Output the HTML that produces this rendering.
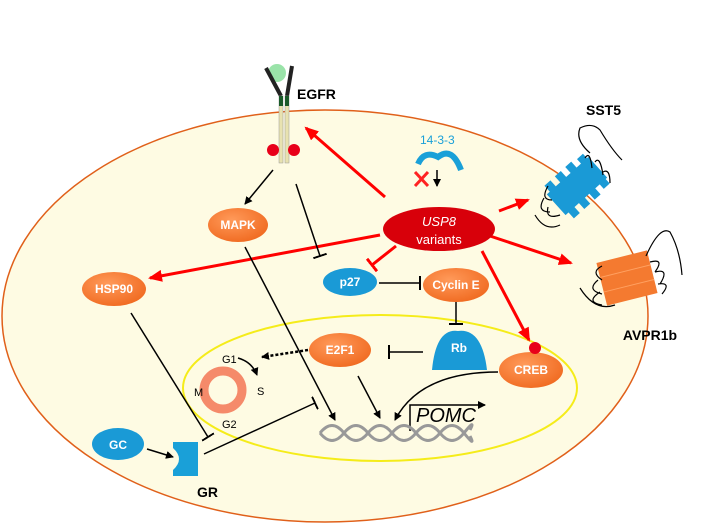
<!DOCTYPE html>
<html><head><meta charset="utf-8"><style>
html,body{margin:0;padding:0;background:#fff;}
svg{display:block;font-family:"Liberation Sans",Arial,sans-serif;}
</style></head><body>
<svg width="711" height="524" viewBox="0 0 711 524" xmlns="http://www.w3.org/2000/svg">
<defs>
<marker id="ab" markerWidth="8" markerHeight="8" refX="7" refY="4" orient="auto" markerUnits="userSpaceOnUse"><path d="M0,0 L8,4 L0,8 z" fill="#000"/></marker>
<marker id="ar" markerWidth="14" markerHeight="12" refX="12" refY="6" orient="auto" markerUnits="userSpaceOnUse"><path d="M0,0 L14,6 L0,12 z" fill="#f00"/></marker>
<marker id="tb" markerWidth="2" markerHeight="14" refX="1" refY="7" orient="auto" markerUnits="userSpaceOnUse"><rect x="0" y="0" width="2" height="14" fill="#000"/></marker>
<marker id="tr" markerWidth="3" markerHeight="16" refX="1.5" refY="8" orient="auto" markerUnits="userSpaceOnUse"><rect x="0" y="0" width="3" height="16" fill="#f00"/></marker>
<radialGradient id="og" cx="40%" cy="35%" r="70%"><stop offset="0" stop-color="#ff9a5a"/><stop offset="1" stop-color="#f06a20"/></radialGradient>
</defs>
<ellipse cx="325" cy="316" rx="323" ry="206" fill="#fefbe3" stroke="#e0601a" stroke-width="1.5"/>
<ellipse cx="380" cy="388" rx="197" ry="73" fill="#fefbe3" stroke="#f5ec1a" stroke-width="2"/>

<!-- EGFR -->
<circle cx="277" cy="73" r="9" fill="#8fe0a0" opacity="0.9"/>
<line x1="266" y1="68" x2="281" y2="96" stroke="#222" stroke-width="4"/>
<line x1="292" y1="66" x2="287" y2="96" stroke="#222" stroke-width="4"/>
<rect x="279" y="96" width="4" height="67" fill="#e8e2b0" stroke="#999" stroke-width="0.5"/>
<rect x="285" y="96" width="4" height="67" fill="#e8e2b0" stroke="#999" stroke-width="0.5"/>
<rect x="279" y="96" width="4" height="10" fill="#1a5a2a"/><rect x="285" y="96" width="4" height="10" fill="#1a5a2a"/>
<circle cx="273" cy="150" r="6" fill="#e8001a"/><circle cx="294" cy="150" r="6" fill="#e8001a"/>
<text x="297" y="99" font-size="14" font-weight="bold">EGFR</text>

<!-- 14-3-3 -->
<text x="420" y="144" font-size="12" fill="#1aa0d8">14-3-3</text>
<path d="M418,164 Q424,150 438,157 Q452,146 461,170" fill="none" stroke="#1aa0d8" stroke-width="6"/>
<line x1="437" y1="170" x2="437" y2="186" stroke="#000" stroke-width="1.5" marker-end="url(#ab)"/>
<path d="M415,172 L428,186 M428,172 L415,186" stroke="#f22" stroke-width="3"/>

<!-- red arrows -->
<g stroke="#f00" stroke-width="3" fill="none">
<line x1="385" y1="197" x2="306" y2="128" marker-end="url(#ar)"/>
<line x1="499" y1="211" x2="528" y2="200" marker-end="url(#ar)"/>
<line x1="490" y1="236" x2="571" y2="263" marker-end="url(#ar)"/>
<line x1="380" y1="235" x2="150" y2="278" marker-end="url(#ar)"/>
<line x1="396" y1="246" x2="372" y2="265" marker-end="url(#tr)"/>
<line x1="482" y1="251" x2="529" y2="340" marker-end="url(#ar)"/>
</g>

<!-- black lines -->
<g stroke="#000" stroke-width="1.5" fill="none">
<line x1="273" y1="170" x2="245" y2="204" marker-end="url(#ab)"/>
<line x1="296" y1="184" x2="320" y2="256" marker-end="url(#tb)"/>
<line x1="245" y1="247" x2="335" y2="420" marker-end="url(#ab)"/>
<line x1="379" y1="283" x2="420" y2="283" marker-end="url(#tb)"/>
<line x1="456" y1="302" x2="456" y2="324" marker-end="url(#tb)"/>
<line x1="423" y1="352" x2="389" y2="352" marker-end="url(#tb)"/>
<line x1="308" y1="350" x2="262" y2="357" stroke-dasharray="3,2" stroke-width="2.5" marker-end="url(#ab)"/>
<line x1="358" y1="376" x2="380" y2="418" marker-end="url(#ab)"/>
<path d="M498,372 Q420,372 395,420" marker-end="url(#ab)"/>
<line x1="131" y1="313" x2="208" y2="437" marker-end="url(#tb)"/>
<line x1="204" y1="454" x2="315" y2="403" marker-end="url(#tb)"/>
<line x1="147" y1="449" x2="173" y2="457" marker-end="url(#ab)"/>
<path d="M410,431 L410,405 L485,405" marker-end="url(#ab)"/>
</g>

<!-- DNA -->
<g stroke="#999" stroke-width="3" fill="none">
<path d="M320,433 Q332,418 344,433 T368,433 T392,433 T416,433 T440,433 T464,433 T470,430"/>
<path d="M320,433 Q332,448 344,433 T368,433 T392,433 T416,433 T440,433 T464,433 T470,436"/>
</g>
<text x="416" y="422" font-size="20" font-style="italic">POMC</text>

<!-- cell cycle -->
<circle cx="223" cy="390" r="19" fill="none" stroke="#f58a6a" stroke-width="9"/>
<text x="222" y="363" font-size="11">G1</text><text x="257" y="395" font-size="11">S</text>
<text x="194" y="396" font-size="11">M</text><text x="222" y="428" font-size="11">G2</text>
<path d="M238,358 Q252,362 257,375" fill="none" stroke="#000" stroke-width="1.5" marker-end="url(#ab)"/>

<!-- nodes -->
<g font-weight="bold" font-size="12" fill="#fff" text-anchor="middle">
<ellipse cx="238" cy="225" rx="30" ry="17" fill="url(#og)"/><text x="238" y="229">MAPK</text>
<ellipse cx="439" cy="229" rx="56" ry="22" fill="#d8000a"/>
<text x="439" y="226" font-weight="normal" font-style="italic" font-size="13">USP8</text>
<text x="439" y="244" font-weight="normal" font-size="13">variants</text>
<ellipse cx="350" cy="282" rx="27" ry="14" fill="#1a9ad6"/><text x="350" y="286">p27</text>
<ellipse cx="456" cy="285" rx="33" ry="17" fill="url(#og)"/><text x="456" y="289">Cyclin E</text>
<ellipse cx="114" cy="289" rx="32" ry="17" fill="url(#og)"/><text x="114" y="293">HSP90</text>
<ellipse cx="340" cy="350" rx="31" ry="17" fill="url(#og)"/><text x="340" y="354">E2F1</text>
<path d="M432,370 Q436,328 458,331 Q482,328 487,370 Z" fill="#1a9ad6"/><text x="459" y="352">Rb</text>
<ellipse cx="531" cy="370" rx="32" ry="18" fill="url(#og)"/><text x="531" y="374">CREB</text>
<circle cx="535" cy="348" r="6" fill="#e8001a"/>
<ellipse cx="118" cy="444" rx="26" ry="16" fill="#1a9ad6"/><text x="118" y="449">GC</text>
</g>
<path d="M173,442 L198,442 L198,476 L173,476 L173,470 Q185,459 173,448 Z" fill="#1aa0d8"/>
<text x="197" y="497" font-size="14" font-weight="bold">GR</text>

<!-- SST5 receptor -->
<text x="586" y="115" font-size="14" font-weight="bold">SST5</text>
<g transform="translate(577,186) rotate(-42)">
<rect x="-28" y="-14" width="56" height="28" fill="#1a9ad6"/>
<rect x="-24" y="-22" width="8" height="44" fill="#1a9ad6"/>
<rect x="-10" y="-22" width="8" height="44" fill="#1a9ad6"/>
<rect x="4" y="-22" width="8" height="44" fill="#1a9ad6"/>
<rect x="18" y="-20" width="8" height="40" fill="#1a9ad6"/>
</g>
<path d="M590,153 Q575,140 580,128 Q592,122 600,130 Q612,150 622,160 M585,158 Q590,150 592,168 M595,162 Q600,155 603,175 M603,172 Q610,168 610,183 M548,186 Q540,200 552,200 M544,198 Q536,212 550,212 M548,207 Q545,220 560,215 M535,215 Q545,232 560,225" fill="none" stroke="#000" stroke-width="1.2"/>
<!-- AVPR1b receptor -->
<g transform="translate(627,278) rotate(-14)">
<rect x="-26" y="-22" width="52" height="44" fill="#f47a30"/>
<line x1="-26" y1="-7" x2="26" y2="-7" stroke="#ffa060" stroke-width="1"/>
<line x1="-26" y1="8" x2="26" y2="8" stroke="#ffa060" stroke-width="1"/>
</g>
<path d="M646,256 Q660,225 670,232 Q680,250 682,275 M650,262 Q665,258 655,272 M655,272 Q670,268 660,284 M658,284 Q672,282 662,294 M602,266 Q590,272 602,280 M598,280 Q586,290 602,294 M600,292 Q585,302 602,305 M580,288 Q595,312 615,305" fill="none" stroke="#000" stroke-width="1.2"/>
<text x="650" y="340" font-size="14" font-weight="bold" text-anchor="middle">AVPR1b</text>
</svg>
</body></html>
